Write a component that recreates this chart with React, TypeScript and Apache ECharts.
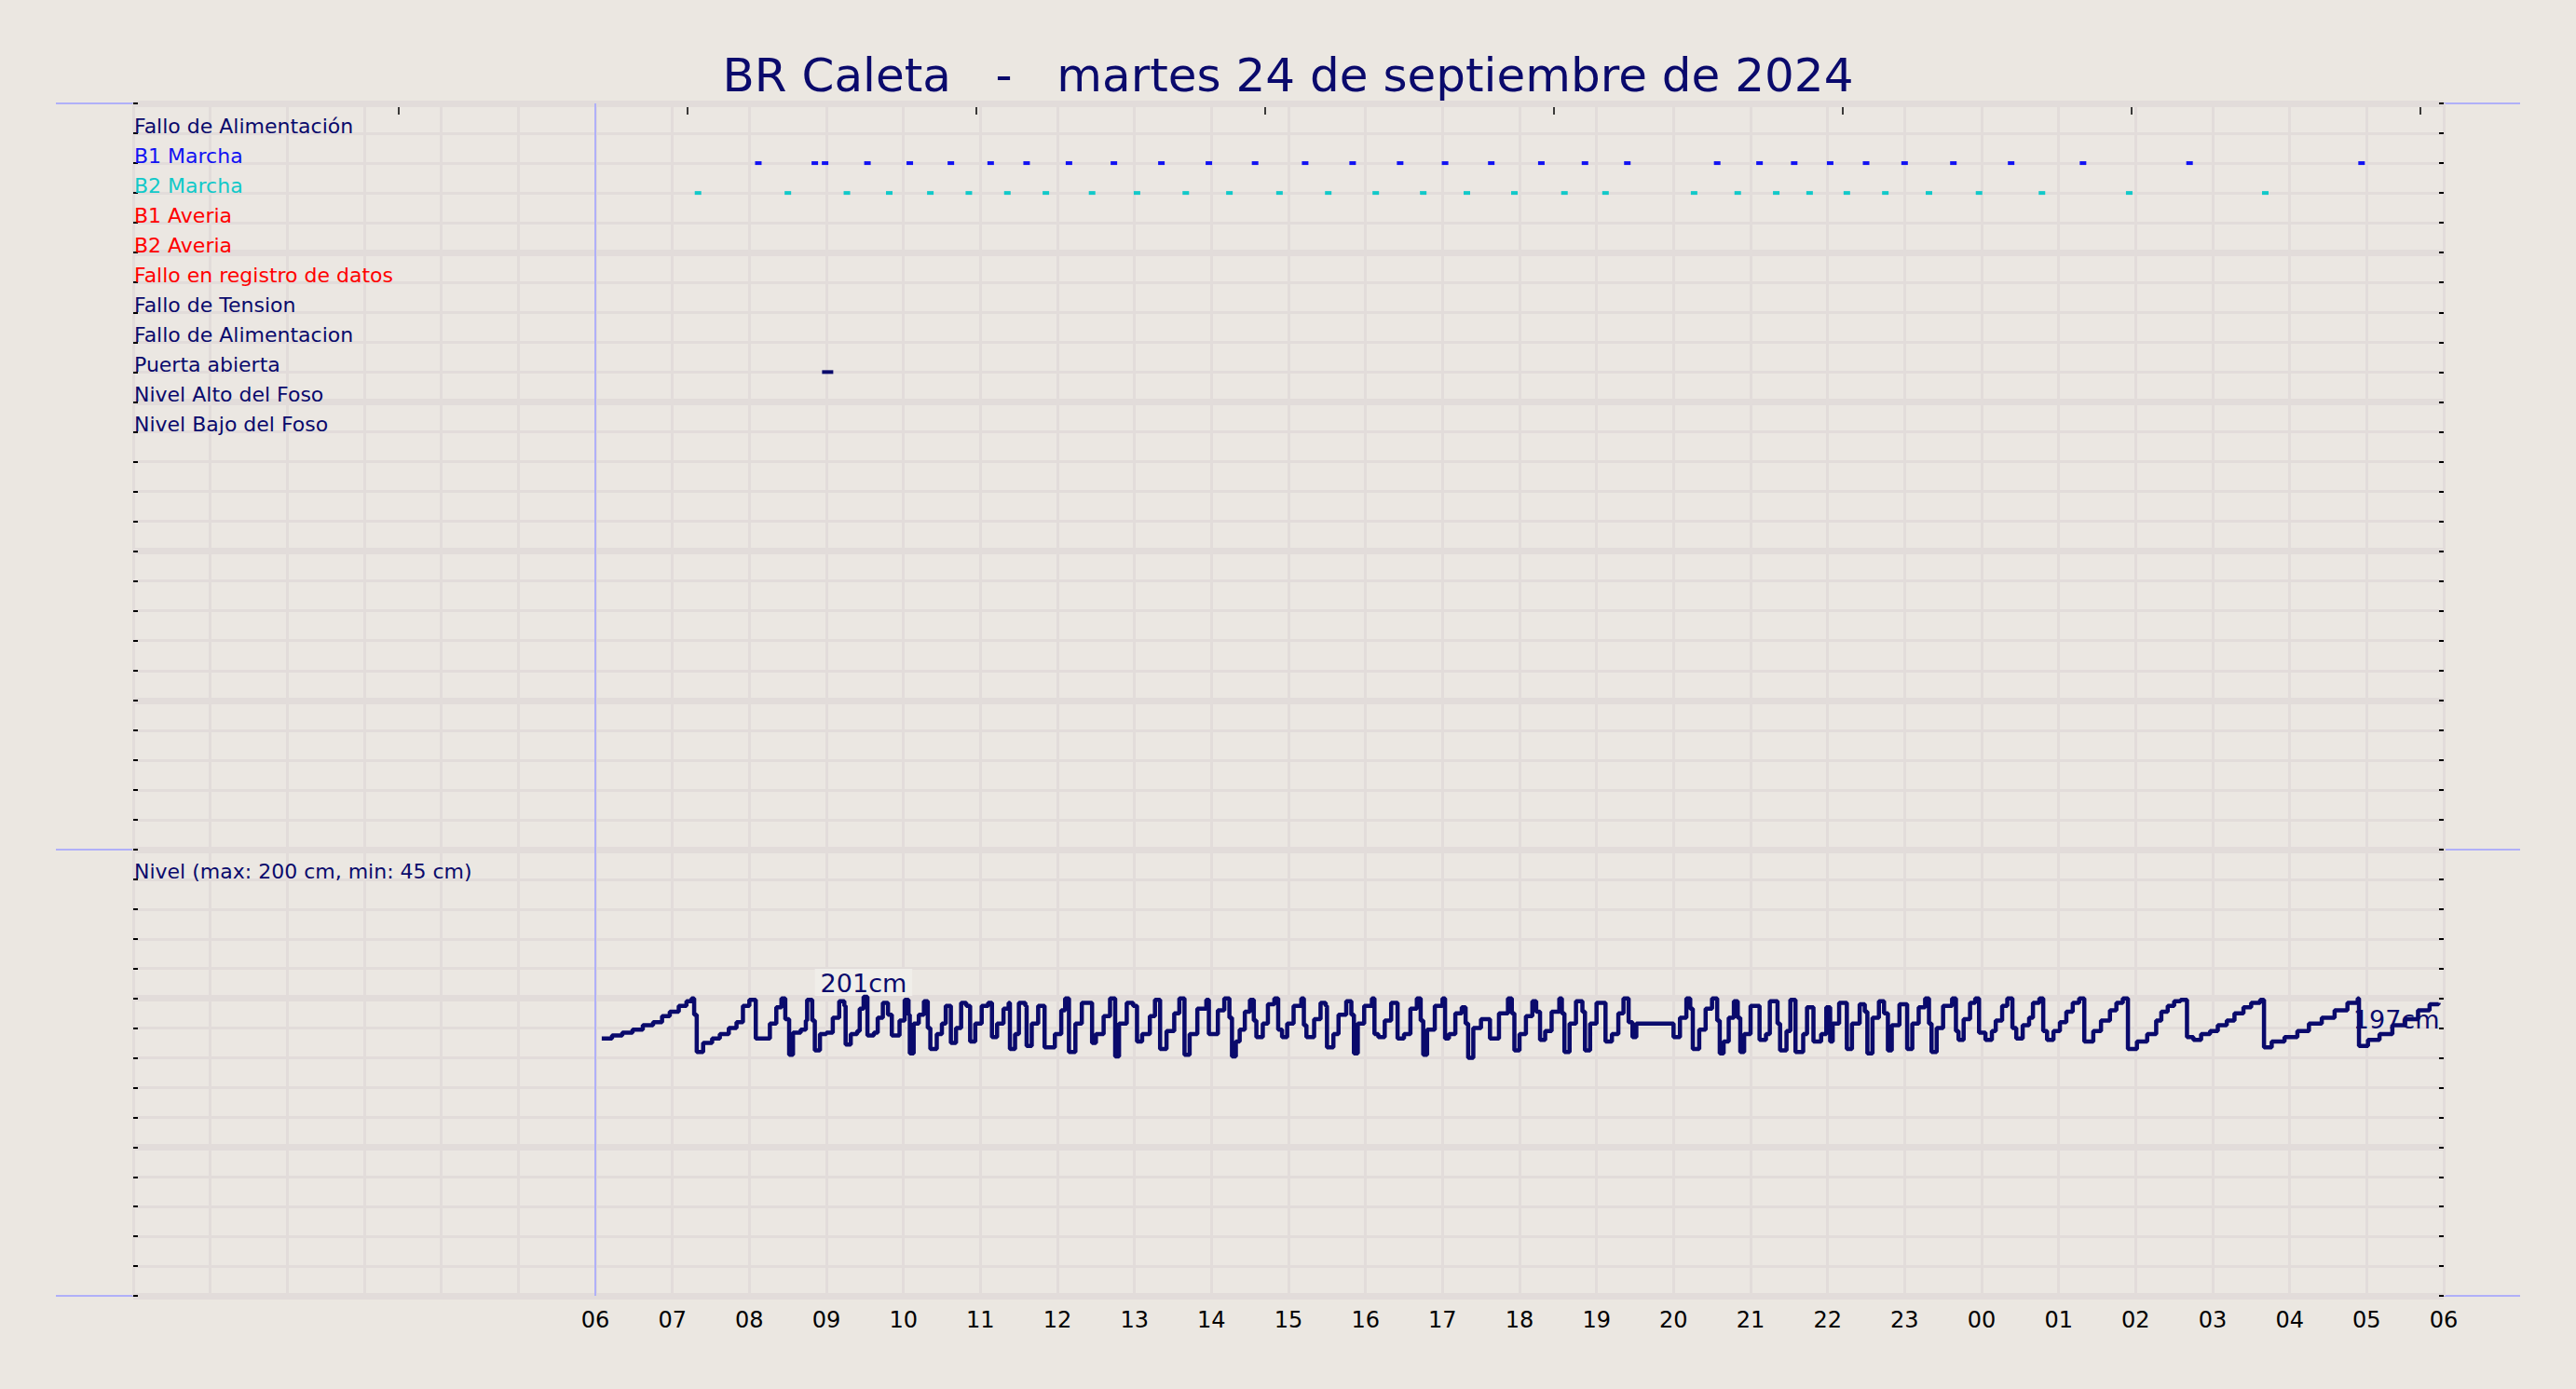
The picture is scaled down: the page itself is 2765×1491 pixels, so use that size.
import React, { useEffect, useRef } from "react";
import * as echarts from "echarts";

const NAVY = "#0a0a6c";
const GRID = "#e2dcda";
const BLUE_LINE = "#b0b0f8";
const FONT = "DejaVu Sans";

// filas del panel de eventos (de arriba abajo)
const rowLabels = [
  "Fallo de Alimentación",
  "B1 Marcha",
  "B2 Marcha",
  "B1 Averia",
  "B2 Averia",
  "Fallo en registro de datos",
  "Fallo de Tension",
  "Fallo de Alimentacion",
  "Puerta abierta",
  "Nivel Alto del Foso",
  "Nivel Bajo del Foso",
];
const rowColors = [NAVY, "#1212f2", "#12c9c9", "#ff0000", "#ff0000", "#ff0000", NAVY, NAVY, NAVY, NAVY, NAVY];

const hourLabels = [
  "06", "07", "08", "09", "10", "11", "12", "13", "14", "15", "16", "17", "18",
  "19", "20", "21", "22", "23", "00", "01", "02", "03", "04", "05", "06",
];
const topTickHours = [3.44, 7.19, 10.94, 14.69, 18.44, 22.19, 25.94, 29.69];

const levelTitle = "Nivel (max: 200 cm, min: 45 cm)";

// arranques de bombas, minutos desde las 06:00
const b1Minutes = [
  127, 171, 179, 212, 245, 277, 308, 336, 369, 404, 441, 478, 514, 553, 590, 627,
  662, 698, 737, 771, 804, 874, 907, 934, 962, 990, 1020, 1058, 1103, 1159, 1242, 1376,
];
const b2Minutes = [
  80, 150, 196, 229, 261, 291, 321, 351, 387, 422, 460, 494, 533, 571, 608, 645,
  679, 716, 755, 787, 856, 890, 920, 946, 975, 1005, 1039, 1078, 1127, 1195, 1301,
];
const doorMinutes = [181];

// nivel del foso (cm), minutos desde las 06:00
const levelMinutes = [
  5, 13, 21, 29, 37, 45, 52, 58, 65, 71, 75, 77, 79, 84, 91, 97, 104, 110, 115, 120,
  125, 136, 141, 145, 148, 151, 154, 160, 164, 165, 169, 171, 175, 180, 185, 190, 194, 195, 199, 204,
  206, 209, 212, 217, 220, 224, 228, 231, 237, 241, 244, 245, 248, 252, 256, 259, 261, 266, 270, 273,
  277, 281, 285, 289, 292, 296, 301, 306, 309, 313, 318, 322, 323, 327, 330, 335, 336, 340, 345, 350,
  358, 363, 366, 369, 374, 379, 387, 390, 396, 401, 405, 408, 414, 419, 422, 426, 432, 436, 440, 445,
  451, 455, 459, 463, 469, 476, 478, 485, 490, 494, 496, 499, 502, 506, 510, 513, 515, 520, 524, 529,
  532, 535, 539, 544, 550, 552, 554, 560, 565, 569, 570, 575, 579, 585, 589, 591, 594, 599, 605, 607,
  610, 615, 620, 625, 630, 635, 640, 643, 645, 648, 654, 660, 662, 665, 670, 675, 678, 680, 684, 690,
  697, 704, 711, 714, 716, 720, 725, 730, 733, 736, 740, 745, 751, 753, 755, 759, 764, 769, 771, 775,
  780, 787, 792, 797, 801, 805, 808, 811, 840, 845, 850, 853, 855, 860, 865, 870, 874, 876, 879, 883,
  887, 890, 892, 895, 900, 907, 912, 915, 921, 923, 928, 931, 935, 941, 944, 949, 955, 959, 962, 964,
  969, 975, 979, 985, 989, 991, 995, 1000, 1004, 1007, 1010, 1016, 1022, 1026, 1031, 1036, 1039, 1041, 1045, 1050,
  1057, 1060, 1062, 1066, 1071, 1075, 1078, 1083, 1088, 1091, 1096, 1100, 1104, 1107, 1112, 1117, 1120, 1125, 1128, 1131,
  1136, 1141, 1146, 1151, 1156, 1160, 1167, 1173, 1180, 1185, 1190, 1194, 1201, 1209, 1216, 1220, 1225, 1230, 1235, 1240,
  1245, 1251, 1258, 1264, 1271, 1277, 1284, 1290, 1297, 1300, 1306, 1316, 1326, 1335, 1345, 1355, 1365, 1373, 1374, 1381,
  1390, 1400, 1410, 1420, 1429, 1436,
];
const levelValues = [
  173, 175, 177, 179, 182, 184, 188, 191, 195, 198, 200, 189, 164, 170, 173, 176, 180, 184, 195, 199,
  173, 183, 194, 200, 186, 162, 177, 179, 185, 199, 185, 165, 176, 177, 187, 198, 195, 169, 176, 178,
  193, 201, 175, 177, 187, 197, 189, 175, 185, 199, 189, 163, 183, 189, 198, 180, 166, 176, 183, 195,
  170, 180, 197, 195, 171, 183, 195, 197, 174, 183, 193, 197, 166, 176, 197, 195, 168, 183, 195, 167,
  176, 192, 200, 164, 183, 197, 170, 176, 188, 200, 161, 183, 197, 195, 171, 176, 188, 199, 166, 178,
  190, 200, 162, 176, 193, 199, 176, 192, 200, 187, 161, 171, 179, 191, 199, 185, 174, 183, 196, 200,
  179, 174, 183, 195, 200, 182, 174, 186, 197, 195, 167, 176, 189, 198, 189, 163, 183, 195, 200, 176,
  174, 185, 197, 173, 176, 193, 200, 185, 162, 179, 195, 200, 173, 176, 190, 194, 183, 160, 180, 186,
  173, 190, 200, 190, 165, 176, 188, 198, 191, 172, 178, 191, 200, 190, 164, 183, 198, 191, 165, 183,
  197, 171, 176, 190, 200, 184, 174, 183, 174, 187, 200, 193, 166, 179, 193, 200, 185, 163, 171, 187,
  198, 187, 164, 176, 195, 172, 176, 198, 183, 165, 178, 199, 164, 176, 194, 171, 176, 194, 171, 183,
  197, 166, 183, 196, 191, 163, 187, 198, 190, 165, 182, 196, 166, 183, 194, 200, 183, 164, 180, 195,
  200, 178, 172, 186, 197, 200, 177, 172, 178, 185, 195, 200, 180, 173, 182, 187, 197, 200, 178, 172,
  178, 184, 191, 197, 200, 171, 178, 185, 192, 197, 200, 166, 171, 176, 185, 191, 195, 198, 199, 174,
  172, 176, 178, 182, 185, 190, 194, 197, 199, 167, 171, 174, 178, 183, 187, 192, 197, 200, 168, 172,
  176, 182, 186, 192, 196, 197,
];

const toHour = (m: number) => 6 + m / 60;

const App: React.FC = () => {
  const chartRef = useRef<HTMLDivElement | null>(null);

  useEffect(() => {
    const dom = chartRef.current;
    if (!dom) return;
    const chart = echarts.init(dom, undefined, { renderer: "svg" });

    const levelData = levelMinutes.map((m, i) => [toHour(m), levelValues[i]]);
    const maxIdx = levelValues.indexOf(Math.max(...levelValues));
    const lastIdx = levelValues.length - 1;

    const thinSplit = { show: true, lineStyle: { color: GRID, width: 3 } };
    const thickSplit = { show: true, lineStyle: { color: GRID, width: 7 } };
    // ticks hacia fuera, con el eje desplazado 5px hacia dentro del grid
    const tickAxis = {
      offset: -5,
      axisTick: { show: true, inside: false, length: 5, lineStyle: { color: "#000", width: 2 } },
    };
    const hidden = { show: false };

    const rowAxis = (extra: any) => ({
      type: "value",
      min: 0,
      max: 25,
      interval: 1,
      inverse: true,
      gridIndex: 0,
      axisLine: hidden,
      axisLabel: hidden,
      axisTick: hidden,
      splitLine: hidden,
      ...extra,
    });
    const levelAxis = (extra: any) => ({
      type: "value",
      min: 0,
      max: 300,
      interval: 20,
      gridIndex: 1,
      axisLine: hidden,
      axisLabel: hidden,
      axisTick: hidden,
      splitLine: hidden,
      ...extra,
    });

    const vLine = {
      silent: true,
      symbol: "none",
      label: { show: false },
      lineStyle: { color: BLUE_LINE, width: 2, type: "solid" },
      data: [{ xAxis: 6 }],
    };

    const markerStyle = (color: string) => ({ color, opacity: 1 });

    const option = {
      animation: false,
      backgroundColor: "#ebe7e1",
      title: {
        text: "BR Caleta   -   martes 24 de septiembre de 2024",
        left: "center",
        top: 56,
        padding: 0,
        textStyle: { color: NAVY, fontSize: 50, fontWeight: "normal", fontFamily: FONT, lineHeight: 50 },
      },
      grid: [
        { left: 143, right: 142, top: 111, height: 801, show: true, backgroundColor: "#ebe7e2", borderWidth: 0 },
        { left: 143, right: 142, top: 912, height: 479, show: true, backgroundColor: "#ebe7e2", borderWidth: 0 },
      ],
      xAxis: [
        {
          type: "value", gridIndex: 0, min: 0, max: 30, interval: 1, position: "bottom",
          axisLine: hidden, axisTick: hidden, axisLabel: hidden, splitLine: thinSplit,
        },
        {
          type: "value", gridIndex: 0, min: 0, max: 30, position: "top", offset: -12,
          axisLine: hidden, axisLabel: hidden, splitLine: hidden,
          axisTick: {
            show: true, inside: false, length: 8, customValues: topTickHours,
            lineStyle: { color: "#000", width: 1.5 },
          },
        },
        {
          type: "value", gridIndex: 1, min: 0, max: 30, interval: 1, position: "bottom",
          axisLine: hidden, axisTick: hidden, splitLine: thinSplit,
          axisLabel: {
            show: true, margin: 14, color: "#000", fontSize: 24, fontFamily: FONT,
            formatter: (v: number) => (v >= 6 ? hourLabels[v - 6] : ""),
          },
        },
      ],
      yAxis: [
        rowAxis({
          position: "left",
          splitLine: thinSplit,
          axisLabel: {
            show: true, inside: true, margin: 1, align: "left", verticalAlign: "bottom",
            fontSize: 22, lineHeight: 16, fontFamily: FONT,
            formatter: (v: number) => rowLabels[v - 1] || "",
            color: (v: any) => rowColors[Number(v) - 1] || NAVY,
          },
        }),
        rowAxis({ position: "left", ...tickAxis }),
        rowAxis({ position: "right", ...tickAxis }),
        rowAxis({ position: "left", interval: 5, splitLine: thickSplit }),
        levelAxis({
          position: "left",
          splitLine: thinSplit,
          axisLabel: {
            show: true, inside: true, margin: 1, align: "left", verticalAlign: "bottom",
            fontSize: 22, lineHeight: 16, fontFamily: FONT, color: NAVY,
            formatter: (v: number) => (v === 280 ? levelTitle : ""),
          },
        }),
        levelAxis({ position: "left", ...tickAxis }),
        levelAxis({ position: "right", ...tickAxis }),
        levelAxis({ position: "left", interval: 100, splitLine: thickSplit }),
      ],
      graphic: [
        { type: "line", silent: true, shape: { x1: 60, y1: 111, x2: 2705, y2: 111 }, style: { stroke: BLUE_LINE, lineWidth: 2 } },
        { type: "line", silent: true, shape: { x1: 60, y1: 912, x2: 2705, y2: 912 }, style: { stroke: BLUE_LINE, lineWidth: 2 } },
        { type: "line", silent: true, shape: { x1: 60, y1: 1391, x2: 2705, y2: 1391 }, style: { stroke: BLUE_LINE, lineWidth: 2 } },
      ],
      series: [
        {
          name: "B1 Marcha", type: "scatter", xAxisIndex: 0, yAxisIndex: 0,
          symbol: "rect", symbolSize: [7, 4], itemStyle: markerStyle(rowColors[1]),
          data: b1Minutes.map((m) => [toHour(m), 2]),
          markLine: vLine,
        },
        {
          name: "B2 Marcha", type: "scatter", xAxisIndex: 0, yAxisIndex: 0,
          symbol: "rect", symbolSize: [7, 4], itemStyle: markerStyle(rowColors[2]),
          data: b2Minutes.map((m) => [toHour(m), 3]),
        },
        {
          name: "Puerta abierta", type: "scatter", xAxisIndex: 0, yAxisIndex: 0,
          symbol: "rect", symbolSize: [12, 4], itemStyle: markerStyle(NAVY),
          data: doorMinutes.map((m) => [toHour(m), 9]),
        },
        {
          name: "Nivel", type: "line", xAxisIndex: 2, yAxisIndex: 4,
          step: "end", symbol: "none", lineStyle: { color: NAVY, width: 4.5 },
          data: levelData,
          markLine: vLine,
        },
        {
          name: "Etiquetas", type: "scatter", xAxisIndex: 2, yAxisIndex: 4,
          symbol: "circle", symbolSize: 2, itemStyle: { color: "rgba(0,0,0,0)", opacity: 1 },
          data: [
            {
              value: levelData[maxIdx],
              label: {
                show: true, position: "top", distance: 0, formatter: `${levelValues[maxIdx]}cm`,
                color: NAVY, fontSize: 27, fontFamily: FONT, opacity: 1,
                backgroundColor: "rgba(241,238,234,0.9)", padding: [2, 6, 0, 6],
              },
            },
            {
              value: levelData[lastIdx],
              label: {
                show: true, position: [2, 6], align: "right", verticalAlign: "top",
                formatter: `${levelValues[lastIdx]}cm`,
                color: NAVY, fontSize: 27, fontFamily: FONT, opacity: 1,
              },
            },
          ],
        },
      ],
    };

    chart.setOption(option as any);
    return () => {
      chart.dispose();
    };
  }, []);

  return (
    <div
      ref={chartRef}
      style={{ position: "fixed", left: 0, top: 0, width: "100vw", height: "100vh" }}
    />
  );
};

export default App;
